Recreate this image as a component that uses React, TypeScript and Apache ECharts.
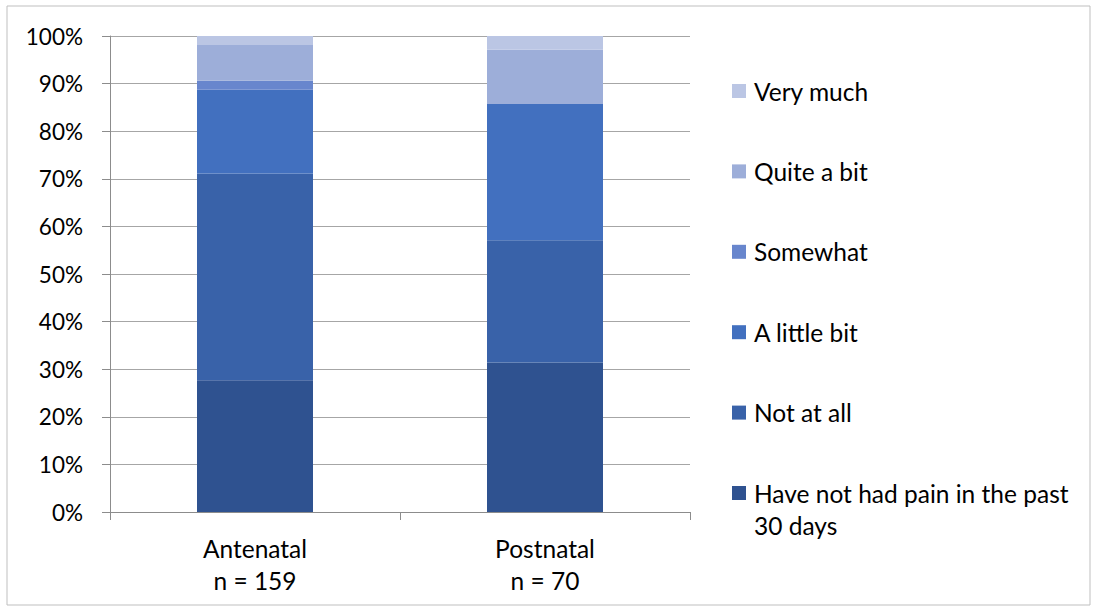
import React, { useEffect, useRef } from "react";
import * as echarts from "echarts";

const categories = ["Antenatal\nn = 159", "Postnatal\nn = 70"];
const seriesNames = [
  "Have not had pain in the past 30 days",
  "Not at all",
  "A little bit",
  "Somewhat",
  "Quite a bit",
  "Very much",
];
const noPain = [27.7, 31.4];
const notAtAll = [43.4, 25.7];
const aLittleBit = [17.6, 28.6];
const somewhat = [1.9, 0];
const quiteABit = [7.5, 11.4];
const veryMuch = [1.9, 2.9];
const yTicks = [0, 10, 20, 30, 40, 50, 60, 70, 80, 90, 100];

const values = [noPain, notAtAll, aLittleBit, somewhat, quiteABit, veryMuch];
const colors = ["#2F5290", "#3962A9", "#4270BF", "#6886CD", "#9DAED9", "#BBC6E4"];
const FONT = "Lato, 'Open Sans', sans-serif";

// Legend entries, top to bottom, with the long label wrapped onto two lines
function legendGraphics() {
  const order = [...seriesNames.keys()].reverse();
  const top = 91;
  const step = 80.4;
  const items: any[] = [];
  order.forEach((idx, row) => {
    const cy = top + row * step;
    const label =
      idx === 0 ? "Have not had pain in the past\n30 days" : seriesNames[idx];
    items.push({
      type: "rect",
      shape: { x: 732, y: cy - 7, width: 14, height: 14 },
      style: { fill: colors[idx] },
      silent: true,
    });
    items.push({
      type: "text",
      x: 754,
      y: cy - 16,
      style: {
        text: label,
        fill: "#000",
        font: `24.5px ${FONT}`,
        lineHeight: 32,
        verticalAlign: "top",
        align: "left",
      },
      silent: true,
    });
  });
  return items;
}

export default function App() {
  const ref = useRef<HTMLDivElement>(null);

  useEffect(() => {
    if (!ref.current) return;
    const chart = echarts.init(ref.current, null, { renderer: "svg" });
    chart.setOption({
      animation: false,
      backgroundColor: "#ffffff",
      textStyle: { fontFamily: FONT },
      grid: { left: 110, right: 410, top: 36, bottom: 97, containLabel: false },
      graphic: [
        {
          type: "rect",
          shape: { x: 7, y: 6, width: 1083, height: 599 },
          style: { fill: "none", stroke: "#bfbfbf", lineWidth: 1 },
          silent: true,
        },
        ...legendGraphics(),
      ],
      xAxis: {
        type: "category",
        data: categories,
        axisLine: { lineStyle: { color: "#8c8c8c" } },
        axisTick: { show: true, length: 8, lineStyle: { color: "#8c8c8c" } },
        axisLabel: { fontFamily: FONT, fontSize: 24.5, color: "#000", lineHeight: 32, margin: 20 },
      },
      yAxis: {
        type: "value",
        min: 0,
        max: 100,
        interval: 10,
        axisLine: { show: true, lineStyle: { color: "#8c8c8c" } },
        axisTick: { show: true, length: 8, lineStyle: { color: "#8c8c8c" } },
        splitLine: { lineStyle: { color: "#a6a6a6" } },
        axisLabel: {
          fontFamily: FONT,
          fontSize: 22.5,
          color: "#000",
          margin: 27,
          formatter: (v: number) => (yTicks.includes(v) ? `${v}%` : ""),
        },
      },
      series: seriesNames.map((name, i) => ({
        name,
        type: "bar",
        stack: "total",
        barWidth: "40%",
        data: values[i],
        itemStyle: { color: colors[i] },
      })),
    });
    return () => chart.dispose();
  }, []);

  return (
    <div
      ref={ref}
      style={{ position: "fixed", left: 0, top: 0, width: 1100, height: 609 }}
    />
  );
}
